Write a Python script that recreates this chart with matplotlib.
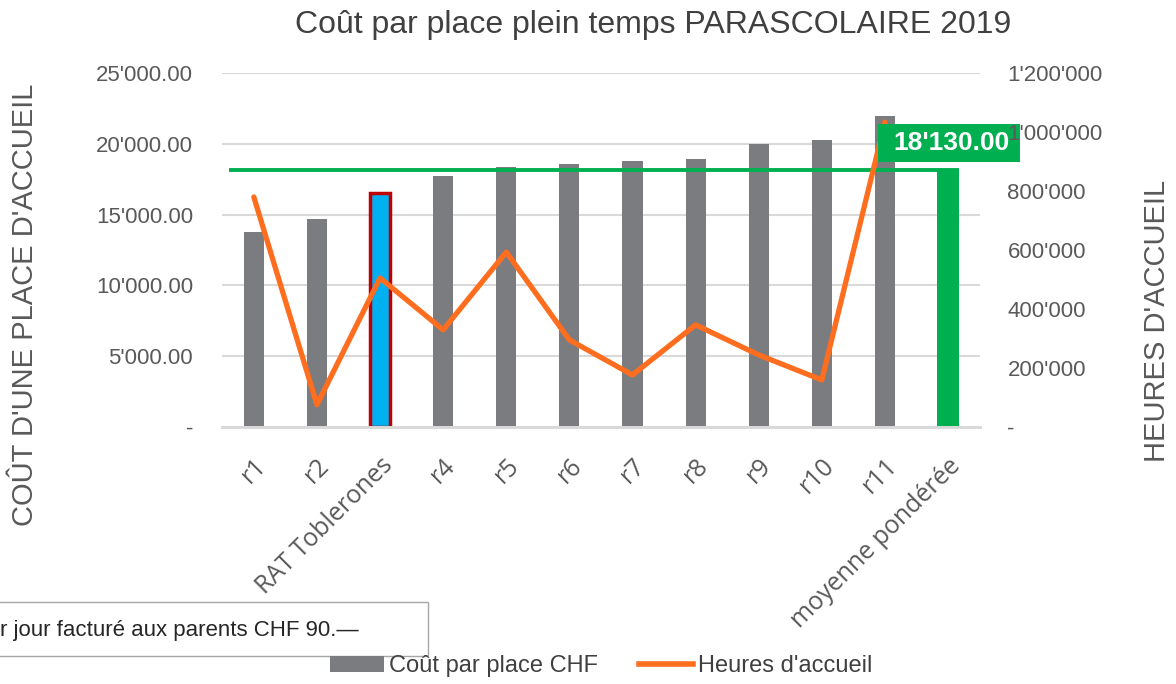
#!/usr/bin/env python3
import numpy as np
import matplotlib
matplotlib.use("Agg")
import matplotlib.pyplot as plt
from matplotlib.patches import Patch, Rectangle
from matplotlib.lines import Line2D
from matplotlib.ticker import FuncFormatter

plt.rcParams['font.family'] = ['Liberation Sans', 'DejaVu Sans']

categories = ["r1", "r2", "RAT Toblerones", "r4", "r5", "r6", "r7", "r8",
              "r9", "r10", "r11", "moyenne pondérée"]
cout_place = [13770, 14700, 16500, 17700, 18400, 18600, 18800, 18900,
              20000, 20300, 22000, 18130]
heures = [780000, 75000, 505000, 329000, 593000, 295000, 176000, 346000,
          244000, 159000, 1034000]
moyenne = 18130

gris = "#7B7C80"
orange = "#FF6D1F"
vert = "#00B050"
bleu = "#00B0F0"
rouge = "#C00000"
texte = "#595959"

fig = plt.figure(figsize=(11.76, 6.84), dpi=100)
ax = fig.add_axes([0.189, 0.376, 0.644, 0.517])
ax2 = ax.twinx()

x = np.arange(len(categories))
couleurs = [gris] * len(categories)
couleurs[2] = bleu
couleurs[-1] = vert
largeurs = [0.32] * len(categories)
largeurs[-1] = 0.35
bars = ax.bar(x, cout_place, width=largeurs, color=couleurs, zorder=2)
bars[2].set_edgecolor(rouge)
bars[2].set_linewidth(2.5)

ax.hlines(moyenne, -0.4, x[-1] + 0.17, color=vert, lw=2.8, zorder=3)

ax2.plot(x[:len(heures)], heures, color=orange, lw=3.8,
         solid_capstyle="round", solid_joinstyle="round", zorder=4)

ax.set_xlim(-0.5, len(categories) - 0.5)
ax.set_ylim(0, 25000)
ax2.set_ylim(0, 1200000)
ax.set_yticks(np.arange(0, 25001, 5000))
ax2.set_yticks(np.arange(0, 1200001, 200000))

def fmt_chf(v, pos):
    if v == 0:
        return "-"
    return f"{v:,.2f}".replace(",", "'")

def fmt_h(v, pos):
    if v == 0:
        return "-"
    return f"{v:,.0f}".replace(",", "'")

ax.yaxis.set_major_formatter(FuncFormatter(fmt_chf))
ax2.yaxis.set_major_formatter(FuncFormatter(fmt_h))

ax.set_xticks(x)
ax.set_xticklabels(categories, rotation=45, ha="right", rotation_mode="anchor",
                   fontsize=18, color=texte,
                   family=["Open Sans", "DejaVu Sans"])
ax.tick_params(axis="x", length=0, pad=19)
ax.tick_params(axis="y", length=0, pad=21, labelsize=16, labelcolor=texte)
ax2.tick_params(axis="y", length=0, pad=20, labelsize=16, labelcolor=texte)
ax2.yaxis.set_zorder(10)

ax.yaxis.grid(True, color="#D9D9D9", lw=1.5, zorder=0)
ax.set_axisbelow(True)
for a in (ax, ax2):
    for s in ("top", "left", "right"):
        a.spines[s].set_visible(False)
    a.spines["bottom"].set_color("#D9D9D9")
    a.spines["bottom"].set_linewidth(2)

# etiquette moyenne
ax2.add_patch(Rectangle((9.89, 21400 / 25000 * 1200000), 2.25,
                        -2700 / 25000 * 1200000, transform=ax2.transData,
                        facecolor=vert, edgecolor="none", clip_on=False, zorder=6))
ax2.text(11.06, 20050 / 25000 * 1200000, "18'130.00", ha="center", va="center",
         color="white", fontsize=19, fontweight="bold", zorder=7)

fig.text(0.555, 0.963, "Coût par place plein temps PARASCOLAIRE 2019",
         ha="center", va="center", fontsize=23, color="#404040")
fig.text(0.021, 0.554, "COÛT D'UNE PLACE D'ACCUEIL", rotation=90,
         ha="center", va="center", fontsize=21, color=texte)
fig.text(0.984, 0.531, "HEURES D'ACCUEIL", rotation=90,
         ha="center", va="center", fontsize=21, color=texte)

# cadre de remarque
fig.patches.append(Rectangle((-0.01, 0.041), 0.374, 0.079, transform=fig.transFigure,
                             facecolor="white", edgecolor="#A6A6A6", lw=1))
fig.text(0.0, 0.078, "r jour facturé aux parents CHF 90.—", ha="left", va="center",
         fontsize=16, color="#262626")

handles = [Patch(facecolor=gris, edgecolor="none"),
           Line2D([0], [0], color=orange, lw=4)]
fig.legend(handles, ["Coût par place CHF", "Heures d'accueil"],
           loc="center", bbox_to_anchor=(0.511, 0.026), ncol=2, frameon=False,
           prop={"size": 17}, borderpad=0,
           handlelength=2.3, handleheight=0.65, handletextpad=0.2,
           columnspacing=1.75, labelcolor="#404040")

fig.savefig("out.png", dpi=100)
